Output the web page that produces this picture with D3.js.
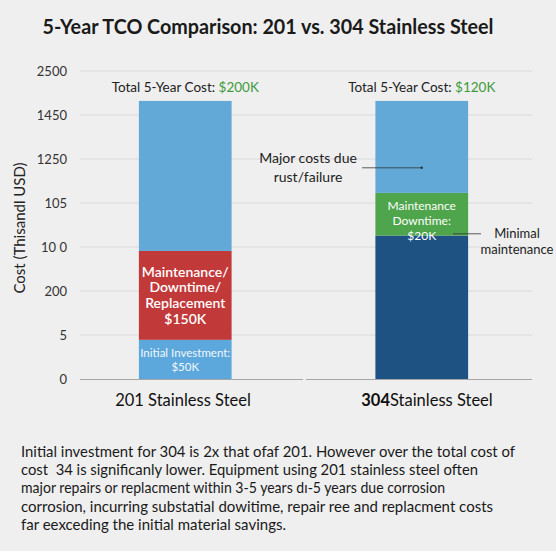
<!DOCTYPE html>
<html>
<head>
<meta charset="utf-8">
<script src="https://cdn.jsdelivr.net/npm/d3@7"></script>
<style>
  html, body { margin: 0; padding: 0; background: #ffffff; }
  svg { display: block; font-family: Lato, "Open Sans", sans-serif; }
</style>
</head>
<body>
<div id="chart"></div>
<script>
// chart values (thousand USD on the drawn axis)
var categories = ["201 Stainless Steel", "304Stainless Steel"];
var baseValues = [89, 326];   // initial investment (201) / 304 base block
var midValues = [202, 97];    // maintenance / downtime
var topValues = [341, 209];   // major costs
var totalLabels = ["$200K", "$120K"];
var tickValues = [0, 100, 200, 300, 400, 500, 600, 700];
var tickLabels = ["0", "5", "200", "10 0", "105", "1250", "1450", "2500"];

var noteLines = [
  "Initial investment for 304 is 2x that ofaf 201. However over the total cost of",
  "cost  34 is significanly lower. Equipment using 201 stainless steel often",
  "major repairs or replacment within 3-5 years d\u0131-5 years due corrosion",
  "corrosion, incurring substatial dowitime, repair ree and replacment costs",
  "far eexceding the initial material savings."
];
var noteWidths = [494, 457, 424, 472, 265];

var W = 556, H = 557;
var svg = d3.select('#chart').append('svg')
    .attr('width', W)
    .attr('height', H);

svg.append('rect')
    .attr('width', W).attr('height', 551)
    .attr('fill', '#efefef');

// title
svg.append('text')
    .attr('x', 268).attr('y', 34)
    .attr('text-anchor', 'middle')
    .attr('font-size', 21).attr('font-weight', 700)
    .attr('fill', '#1a1a1a')
    .attr('textLength', 451)
    .attr('lengthAdjust', 'spacingAndGlyphs')
    .text('5-Year TCO Comparison: 201 vs. 304 Stainless Steel');

var x = d3.scaleBand()
    .domain(categories)
    .range([80, 527])
    .paddingInner(0.608)
    .paddingOuter(0.249);

var y = d3.scaleLinear()
    .domain([0, 700])
    .range([379, 71]);

// gridlines
svg.append('g')
    .selectAll('line')
    .data(tickValues.slice(1))
    .enter().append('line')
    .attr('x1', 80).attr('x2', 532)
    .attr('y1', function(d){ return y(d); })
    .attr('y2', function(d){ return y(d); })
    .attr('stroke', '#d9d9d9')
    .attr('stroke-width', 1);

// y axis labels
var yAxis = d3.axisLeft(y)
    .tickValues(tickValues)
    .tickSize(0)
    .tickPadding(0)
    .tickFormat(function(d, i){ return tickLabels[i]; });

var gy = svg.append('g')
    .attr('transform', 'translate(67,0)')
    .call(yAxis);
gy.select('.domain').remove();
gy.selectAll('text')
    .attr('font-size', 13)
    .attr('fill', '#333')
    .style('font-family', 'Lato, "Open Sans", sans-serif');

svg.append('text')
    .attr('transform', 'translate(25,228) rotate(-90)')
    .attr('text-anchor', 'middle')
    .attr('font-size', 15.5)
    .attr('fill', '#222')
    .attr('textLength', 131)
    .attr('lengthAdjust', 'spacingAndGlyphs')
    .text('Cost (Thisandl USD)');

// stacked bars
var rows = categories.map(function(c, i){
    return { cat: c, base: baseValues[i], mid: midValues[i], top: topValues[i] };
});
var stack = d3.stack().keys(['base', 'mid', 'top']);
var series = stack(rows);
var colors = {
    base: ['#5ca8dc', '#1e5283'],
    mid: ['#c2393a', '#4ea54b'],
    top: ['#62a9d7', '#62a9d7']
};

series.forEach(function(s){
    svg.append('g')
        .selectAll('rect')
        .data(s)
        .enter().append('rect')
        .attr('x', function(d){ return x(d.data.cat); })
        .attr('width', x.bandwidth())
        .attr('y', function(d){ return y(d[1]); })
        .attr('height', function(d){ return y(d[0]) - y(d[1]); })
        .attr('fill', function(d, i){ return colors[s.key][i]; });
});

// baseline (with its small break)
svg.append('line')
    .attr('x1', 80).attr('x2', 303).attr('y1', 379.5).attr('y2', 379.5)
    .attr('stroke', '#a6a6a6');
svg.append('line')
    .attr('x1', 306).attr('x2', 532).attr('y1', 379.5).attr('y2', 379.5)
    .attr('stroke', '#a6a6a6');

// totals above bars
categories.forEach(function(c, i){
    var t = svg.append('text')
        .attr('x', x(c) + x.bandwidth() / 2)
        .attr('y', y(baseValues[i] + midValues[i] + topValues[i]) - 9)
        .attr('text-anchor', 'middle')
        .attr('font-size', 13.5)
        .attr('fill', '#222');
    t.append('tspan').text('Total 5-Year Cost: ');
    t.append('tspan').attr('fill', '#3c9b3c').text(totalLabels[i]);
});

// category labels
var cx0 = x(categories[0]) + x.bandwidth() / 2;
var cx1 = x(categories[1]) + x.bandwidth() / 2;
svg.append('text')
    .attr('x', 183).attr('y', 406)
    .attr('text-anchor', 'middle')
    .attr('font-size', 16.5).attr('fill', '#111')
    .text('201 Stainless Steel');
var c2 = svg.append('text')
    .attr('x', 427).attr('y', 406)
    .attr('text-anchor', 'middle')
    .attr('font-size', 16.5).attr('fill', '#111');
c2.append('tspan').attr('font-weight', 700).text('304');
c2.append('tspan').text('Stainless Steel');

// labels inside segments
function block(lines, cx, cy, size, weight, step, color) {
    var t = svg.append('text')
        .attr('text-anchor', 'middle')
        .attr('font-size', size)
        .attr('font-weight', weight)
        .attr('fill', color);
    var y0 = cy - (lines.length - 1) * step / 2;
    lines.forEach(function(l, i){
        t.append('tspan').attr('x', cx).attr('y', y0 + i * step).attr('dy', '0.35em').text(l);
    });
}

block(['Maintenance/', 'Downtime/', 'Replacement', '$150K'], cx0,
    (y(baseValues[0]) + y(baseValues[0] + midValues[0])) / 2, 14, 600, 15.8, '#ffffff');
block(['Initial Investment:', '$50K'], cx0,
    (y(0) + y(baseValues[0])) / 2 + 1, 11.5, 400, 14, '#f2f7fb');
block(['Maintenance', 'Downtime:', '$20K'], cx1,
    (y(baseValues[1]) + y(baseValues[1] + midValues[1])) / 2 + 7, 12, 400, 15, '#ffffff');

// annotations
var yMajor = y(480);
svg.append('line')
    .attr('x1', 362).attr('x2', cx1).attr('y1', yMajor).attr('y2', yMajor)
    .attr('stroke', '#333').attr('stroke-width', 0.8);
svg.append('circle')
    .attr('cx', cx1).attr('cy', yMajor).attr('r', 1.2).attr('fill', '#333');
block(['Major costs due', 'rust/failure'], 308, yMajor - 0.5, 14, 400, 19, '#222');

var yMin = y(330);
svg.append('line')
    .attr('x1', 453).attr('x2', 481).attr('y1', yMin).attr('y2', yMin)
    .attr('stroke', '#333').attr('stroke-width', 0.8);
block(['Minimal', 'maintenance'], 517, yMin + 8, 13, 400, 16, '#222');

// note paragraph
var note = svg.append('g');
noteLines.forEach(function(l, i){
    note.append('text')
        .attr('x', 21)
        .attr('y', 451 + i * 18.3)
        .attr('dy', '0.35em')
        .attr('font-size', i === 2 ? 15 : 16)
        .attr('fill', '#1a1a1a')
        .attr('textLength', noteWidths[i])
        .attr('lengthAdjust', 'spacingAndGlyphs')
        .style('white-space', 'pre')
        .text(l);
});
</script>
</body>
</html>
